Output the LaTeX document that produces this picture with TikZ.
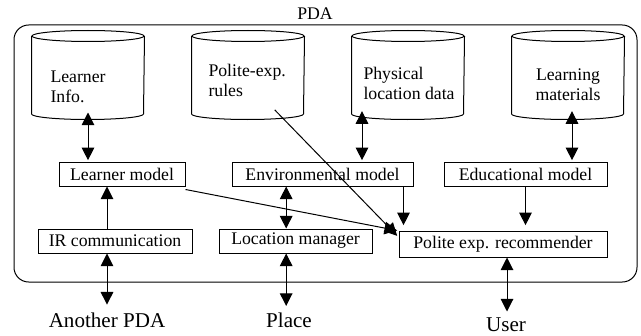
\documentclass[tikz,border=0pt]{standalone}
\usepackage{fontspec}
\setmainfont{Liberation Serif}
\usetikzlibrary{arrows.meta}

\tikzset{every picture/.style={line width=0.75pt}}
\tikzset{
	dbase/.style={rectangle, minimum width=84pt, minimum height=49.5pt, inner sep=0pt},
	block/.style={draw, rectangle, minimum height=18pt, inner sep=0pt, font=\fontsize{13.3}{15}\selectfont},
	dbtext/.style={align=left, inner sep=0pt, font=\fontsize{13.3}{15}\selectfont},
	outside/.style={inner sep=0pt, font=\fontsize{15.8}{18}\selectfont},
	flow/.style={-{Triangle[width=9.5pt,length=9.5pt]}},
	dflow/.style={{Triangle[width=9.5pt,length=9.5pt]}-{Triangle[width=9.5pt,length=9.5pt]}}
}
% outline of a data store round a dbase node
\newcommand{\storeoutline}[1]{%
	\draw ([yshift=-4.125pt]#1.north) ellipse [x radius=56, y radius=5.5];
	\draw ([yshift=-4.125pt]#1.north west) -- ([yshift=4.125pt]#1.south west) arc [start angle=180, end angle=0, x radius=56, y radius=5.5] -- ([yshift=-4.125pt]#1.north east);
}

\begin{document}
\begin{tikzpicture}[x=0.75pt,y=0.75pt,yscale=-1,xscale=1]
	\useasboundingbox (0,0) rectangle (641,335);

	%PDA frame
	\node [draw, rounded corners=11pt, minimum width=467.25pt, minimum height=192.75pt] (pda) at (325.5,153.5) {};
	\node [dbtext] (pdaname) at (315,14) {PDA};

	%Data stores
	\node [dbase] (learninfo) at (88,75) {};
	\node [dbase] (rules) at (248,75) {};
	\node [dbase] (locdata) at (408,75) {};
	\node [dbase] (materials) at (568,75) {};
	\storeoutline{learninfo}
	\storeoutline{rules}
	\storeoutline{locdata}
	\storeoutline{materials}
	% Text Node
	\node [dbtext, anchor=west] (learninfotxt) at (50,87) {Learner\\Info.};
	% Text Node
	\node [dbtext, anchor=west] (rulestxt) at (208,80) {Polite-exp.\\rules};
	% Text Node
	\node [dbtext, anchor=west] (locdatatxt) at (363,83) {Physical\\location data};
	% Text Node
	\node [dbtext, align=center] (materialstxt) at (568,85) {Learning\\materials};

	%Models
	\node [block, minimum width=94.5pt] (learnmodel) at (122,174) {Learner model};
	\node [block, minimum width=135.75pt] (envmodel) at (322.5,174) {Environmental model};
	\node [block, minimum width=122.25pt] (edumodel) at (525.5,174) {Educational model};

	%Managers
	\node [block, minimum width=115.5pt] (ircomm) at (115,241) {IR communication};
	\node [block, minimum width=114.75pt] (locman) at (295.5,241) {Location manager};
	\node [block, minimum width=156pt, minimum height=19.5pt] (recomm) at (503,244) {Polite exp. recommender};

	%Outside world
	\node [outside] (another) at (107,320.5) {Another PDA};
	\node [outside] (place) at (289,320.5) {Place};
	\node [outside] (user) at (506,325) {User};

	%Connections
	\draw [dflow, shorten <=3pt, shorten >=1pt] (learninfo.south) -- (learninfo.south |- learnmodel.north);
	\draw [dflow, shorten <=2pt, shorten >=1pt] ([xshift=-34.5pt]locdata.south) -- ([xshift=-34.5pt]locdata.south |- envmodel.north);
	\draw [dflow, shorten <=2pt, shorten >=1pt] ([xshift=3pt]materials.south) -- ([xshift=3pt]materials.south |- edumodel.north);
	\draw [flow] ([xshift=-6pt]ircomm.north) -- ([xshift=-6pt]ircomm.north |- learnmodel.south);
	\draw [dflow, shorten >=6pt] ([xshift=-6pt]ircomm.south) -- ([xshift=-6pt]ircomm.south |- another.north);
	\draw [dflow] ([xshift=-7pt]locman.north) -- ([xshift=-7pt]locman.north |- envmodel.south);
	\draw [dflow, shorten >=5pt] ([xshift=-7pt]locman.south) -- ([xshift=-7pt]locman.south |- place.north);
	\draw [dflow, shorten >=4.5pt] ([xshift=3pt]recomm.south) -- ([xshift=3pt]recomm.south |- user.north);
	\draw [flow, shorten >=4pt] ([xshift=-7.5pt]envmodel.south east) -- ([xshift=-7.5pt]envmodel.south east |- recomm.north);
	\draw [flow, shorten >=4pt] (edumodel.south) -- (edumodel.south |- recomm.north);
	\draw [flow] ([xshift=20pt,yshift=1pt]rules.south) -- ([xshift=-1pt,yshift=4pt]recomm.north west);
	\draw [flow] ([yshift=2.25pt]learnmodel.south east) -- ([xshift=-1pt]recomm.north west);

\end{tikzpicture}
\end{document}
